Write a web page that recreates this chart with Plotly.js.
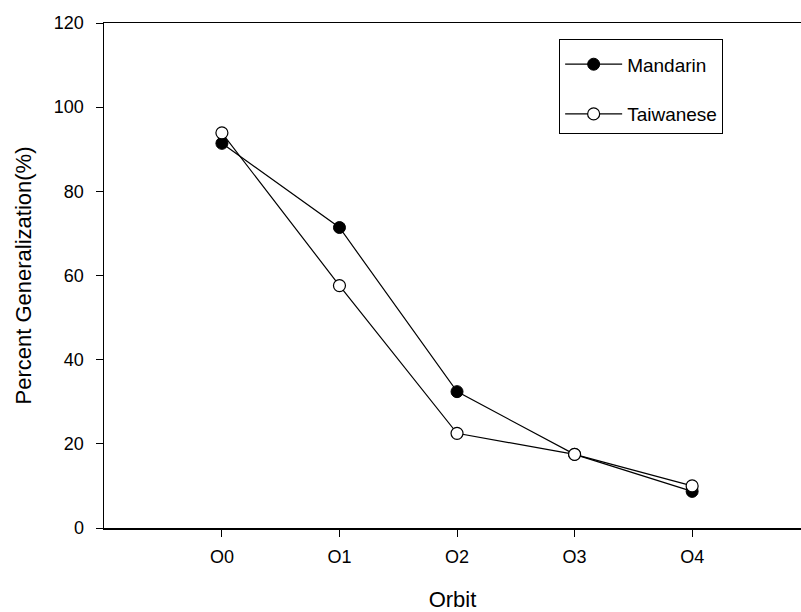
<!DOCTYPE html>
<html>
<head>
<meta charset="utf-8">
<script src="https://cdn.plot.ly/plotly-3.0.1.min.js"></script>
<style>
  html, body { margin: 0; padding: 0; background: #fff; overflow: hidden; }
  #chart { width: 801px; height: 612px; }
</style>
</head>
<body>
<div id="chart"></div>
<script>
// Orbit categories and generalization percentages per language group
const orbits = ['O0', 'O1', 'O2', 'O3', 'O4'];
const mandarin = [91.4, 71.4, 32.4, 17.5, 8.7];
const taiwanese = [93.9, 57.6, 22.5, 17.5, 10.0];
const yTicks = [0, 20, 40, 60, 80, 100, 120];

const fam = 'Liberation Sans, Arial, sans-serif';
const f = (size) => ({ family: fam, color: '#000', size: size });
const xIdx = orbits.map((_, i) => i);

const traces = [
  {
    name: 'Mandarin', x: xIdx, y: mandarin, mode: 'lines+markers',
    line: { color: '#000', width: 1.2 },
    marker: { symbol: 'circle', size: 12, color: '#000', line: { color: '#000', width: 1 } },
    legendgroup: 'a'
  },
  {
    name: 'Taiwanese', x: xIdx, y: taiwanese, mode: 'lines+markers',
    line: { color: '#000', width: 1.2 },
    marker: { symbol: 'circle', size: 12, color: '#fff', line: { color: '#000', width: 1.2 } },
    legendgroup: 'b'
  }
];

const layout = {
  width: 801, height: 612,
  margin: { l: 104, r: 0, t: 23, b: 84 },
  paper_bgcolor: '#fff', plot_bgcolor: '#fff',
  font: f(18),
  showlegend: true,
  legend: {
    x: 0.653, y: 0.968, xanchor: 'left', yanchor: 'top',
    bordercolor: '#000', borderwidth: 1, bgcolor: '#fff',
    font: f(19),
    title: { text: ' ', font: f(4) },
    traceorder: 'grouped', tracegroupgap: 22,
    itemwidth: 57
  },
  xaxis: {
    range: [-1.003, 4.926],
    tickvals: xIdx, ticktext: orbits,
    showgrid: false, zeroline: false,
    showline: true, linecolor: '#000', linewidth: 1.5, mirror: true,
    ticks: 'outside', ticklen: 7, tickcolor: '#000', tickwidth: 1,
    ticklabelstandoff: 5,
    tickfont: f(18),
    title: { text: 'Orbit', font: f(22), standoff: 26 }
  },
  yaxis: {
    range: [0, 120], tickvals: yTicks,
    showgrid: false, zeroline: false,
    showline: true, linecolor: '#000', linewidth: 1.5,
    ticks: 'outside', ticklen: 7, tickcolor: '#000', tickwidth: 1,
    ticklabelstandoff: 8,
    tickfont: f(18),
    title: { text: 'Percent Generalization(%)', font: f(22), standoff: 16 }
  }
};

Plotly.newPlot('chart', traces, layout, { staticPlot: true, displayModeBar: false });
</script>
</body>
</html>
